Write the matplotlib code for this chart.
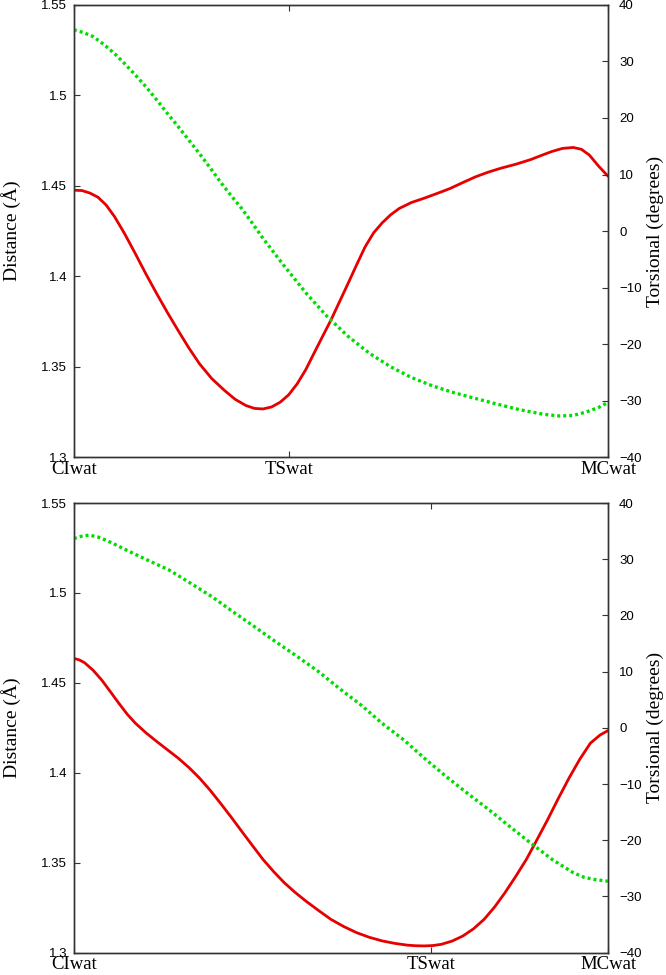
import matplotlib
matplotlib.use('Agg')
import matplotlib.pyplot as plt

# eixo x: fracao do caminho de reacao (0 = CIwat, 1 = MCwat)
top_x_red = [0.000, 0.015, 0.030, 0.045, 0.060, 0.076, 0.095, 0.115, 0.135, 0.155, 0.175, 0.195,
             0.215, 0.235, 0.258, 0.282, 0.302, 0.322, 0.338, 0.354, 0.370, 0.386, 0.402, 0.418,
             0.434, 0.449, 0.465, 0.481, 0.497, 0.513, 0.529, 0.545, 0.561, 0.577, 0.593, 0.609,
             0.632, 0.656, 0.680, 0.704, 0.728, 0.752, 0.776, 0.800, 0.828, 0.855, 0.875, 0.895,
             0.915, 0.935, 0.950, 0.965, 0.982, 1.000]
top_dist = [1.4476, 1.4474, 1.4460, 1.4437, 1.4395, 1.4330, 1.4235, 1.4125, 1.4012, 1.3904, 1.3800, 1.3701,
            1.3605, 1.3517, 1.3435, 1.3369, 1.3320, 1.3286, 1.3270, 1.3267, 1.3278, 1.3304, 1.3345, 1.3406,
            1.3484, 1.3572, 1.3665, 1.3757, 1.3858, 1.3959, 1.4062, 1.4162, 1.4240, 1.4295, 1.4340, 1.4375,
            1.4408, 1.4432, 1.4458, 1.4485, 1.4518, 1.4550, 1.4576, 1.4598, 1.4620, 1.4645, 1.4668, 1.4690,
            1.4707, 1.4712, 1.4702, 1.4670, 1.4610, 1.4553]

top_x_green = [0.000, 0.018, 0.036, 0.056, 0.076, 0.095, 0.115, 0.135, 0.155, 0.175, 0.195, 0.215,
               0.235, 0.255, 0.274, 0.294, 0.314, 0.334, 0.354, 0.394, 0.434, 0.473, 0.513, 0.553,
               0.593, 0.632, 0.672, 0.712, 0.752, 0.792, 0.835, 0.879, 0.910, 0.935, 0.959, 0.982, 1.000]
top_tors = [35.6, 35.1, 34.4, 33.0, 31.4, 29.6, 27.6, 25.5, 23.2, 20.8, 18.5, 16.1,
            13.7, 11.2, 8.7, 6.3, 4.0, 1.4, -1.3, -6.2, -10.9, -15.0, -18.6, -21.6,
            -24.0, -25.9, -27.4, -28.6, -29.6, -30.6, -31.6, -32.4, -32.7, -32.6, -32.0, -31.2, -30.3]

bot_x_red = [0.000, 0.010, 0.020, 0.036, 0.052, 0.068, 0.084, 0.100, 0.115, 0.135, 0.155, 0.175,
             0.195, 0.215, 0.235, 0.255, 0.274, 0.294, 0.314, 0.334, 0.354, 0.374, 0.394, 0.414,
             0.434, 0.458, 0.481, 0.505, 0.529, 0.553, 0.577, 0.601, 0.625, 0.640, 0.656, 0.672,
             0.688, 0.708, 0.728, 0.748, 0.768, 0.788, 0.807, 0.827, 0.847, 0.867, 0.887, 0.907,
             0.927, 0.947, 0.967, 0.985, 1.000]
bot_dist = [1.4636, 1.4628, 1.4612, 1.4570, 1.4516, 1.4452, 1.4387, 1.4325, 1.4276, 1.4222, 1.4174, 1.4128,
            1.4082, 1.4030, 1.3971, 1.3903, 1.3832, 1.3755, 1.3675, 1.3596, 1.3518, 1.3450, 1.3388, 1.3335,
            1.3287, 1.3234, 1.3185, 1.3145, 1.3111, 1.3085, 1.3065, 1.3051, 1.3041, 1.3038, 1.3037, 1.3039,
            1.3046, 1.3064, 1.3092, 1.3132, 1.3185, 1.3255, 1.3333, 1.3423, 1.3518, 1.3628, 1.3740, 1.3858,
            1.3971, 1.4075, 1.4165, 1.4210, 1.4235]

bot_x_green = [0.000, 0.014, 0.028, 0.044, 0.060, 0.080, 0.099, 0.139, 0.179, 0.219, 0.259, 0.298,
               0.338, 0.378, 0.418, 0.458, 0.497, 0.537, 0.577, 0.617, 0.656, 0.696, 0.736, 0.776,
               0.815, 0.855, 0.895, 0.935, 0.955, 0.975, 1.000]
bot_tors = [33.7, 34.1, 34.3, 34.0, 33.4, 32.5, 31.6, 29.8, 28.05, 25.7, 23.3, 20.65,
            18.0, 15.3, 12.7, 10.0, 7.0, 4.1, 0.8, -2.1, -5.4, -8.6, -11.6, -14.5,
            -17.5, -20.5, -23.4, -25.8, -26.6, -27.0, -27.3]

tick_labels = ['CIwat', 'TSwat', 'MCwat']
top_ticks = [0, 0.402, 1]
bot_ticks = [0, 0.668, 1]
dist_ticks = [1.3, 1.35, 1.4, 1.45, 1.5, 1.55]
dist_labels = ['1.3', '1.35', '1.4', '1.45', '1.5', '1.55']
tors_ticks = [-40, -30, -20, -10, 0, 10, 20, 30, 40]

serif = ['Liberation Serif', 'DejaVu Serif']
sans = ['Liberation Sans', 'DejaVu Sans']
frame = '#333333'

fig = plt.figure(figsize=(6.66, 9.75), dpi=100)


def painel(rect, xr, dist, xg, tors, xticks):
    ax = fig.add_axes(rect)
    ax2 = ax.twinx()
    ax.plot(xr, dist, color='#e60000', lw=2.0, solid_capstyle='round', solid_joinstyle='round')
    ax2.plot(xg, tors, color='#00dd00', lw=2.4, linestyle=(0, (0.9, 0.9)))
    ax.set_xlim(0, 1)
    ax.set_ylim(1.3, 1.55)
    ax2.set_ylim(-40, 40)
    ax.set_xticks(xticks)
    ax.set_xticklabels(tick_labels, fontfamily=serif, fontsize=13.5)
    ax.set_yticks(dist_ticks)
    ax.set_yticklabels(dist_labels, fontfamily=sans, fontsize=9.5)
    ax2.set_yticks(tors_ticks)
    ax2.set_yticklabels([str(t).replace('-', '\u2212') for t in tors_ticks], fontfamily=sans, fontsize=9.5)
    ax.tick_params(axis='x', direction='in', top=True, length=4.5, width=0.8, color=frame, pad=2.5)
    ax.tick_params(axis='y', direction='in', length=4.5, width=0.8, color=frame, pad=5)
    ax2.tick_params(axis='y', direction='in', length=4.5, width=0.8, color=frame, pad=8)
    for a in (ax, ax2):
        for s in a.spines.values():
            s.set_color(frame)
            s.set_linewidth(1.0)
    ax.set_ylabel('Distance (Å)', fontfamily=serif, fontsize=14)
    ax2.set_ylabel('Torsional (degrees)', fontfamily=serif, fontsize=14)
    ax.yaxis.set_label_coords(-0.099, 0.5)
    ax2.yaxis.set_label_coords(1.072, 0.5)
    return ax


painel([0.111, 0.531, 0.802, 0.464], top_x_red, top_dist, top_x_green, top_tors, top_ticks)
painel([0.111, 0.023, 0.802, 0.461], bot_x_red, bot_dist, bot_x_green, bot_tors, bot_ticks)

fig.savefig('out.png', dpi=100)
